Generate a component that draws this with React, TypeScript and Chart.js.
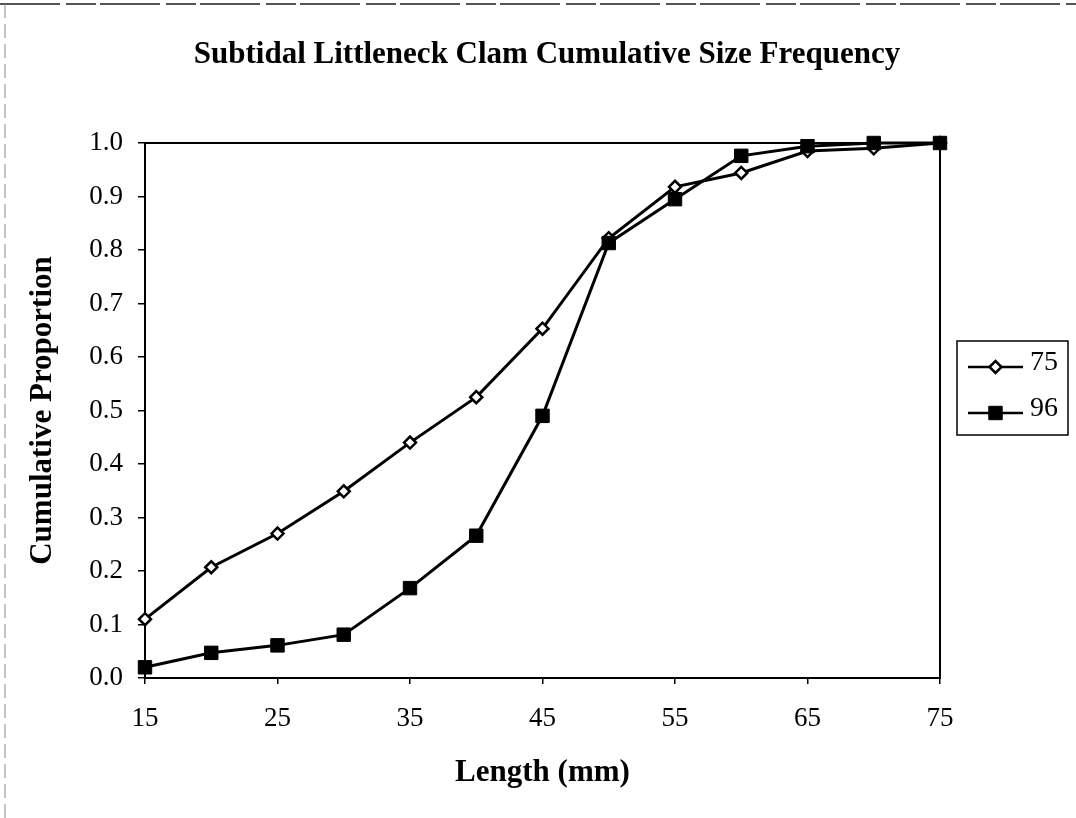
import React, { useEffect, useRef } from "react";
import { Chart, registerables } from "chart.js";

Chart.register(...registerables);

const lengths = [15, 20, 25, 30, 35, 40, 45, 50, 55, 60, 65, 70, 75];
const series75 = [0.11, 0.207, 0.27, 0.349, 0.44, 0.525, 0.653, 0.822, 0.918, 0.944, 0.985, 0.99, 1.0];
const series96 = [0.02, 0.047, 0.061, 0.081, 0.168, 0.266, 0.49, 0.813, 0.895, 0.976, 0.994, 1.0, 1.0];
const seriesLabels = ["75", "96"];
const chartTitle = "Subtidal Littleneck Clam Cumulative Size Frequency";
const xTitle = "Length (mm)";
const yTitle = "Cumulative Proportion";

const SERIF = "'Liberation Serif', 'Times New Roman', serif";

const framePlugin = {
  id: "frame",
  beforeDraw(chart: any) {
    const { ctx, width } = chart;
    ctx.save();
    ctx.fillStyle = "#ffffff";
    ctx.fillRect(0, 0, chart.width, chart.height);
    // faint page border (scan edge)
    ctx.strokeStyle = "#555";
    ctx.lineWidth = 2;
    ctx.setLineDash([60, 6, 30, 4]);
    ctx.beginPath();
    ctx.moveTo(0, 4);
    ctx.lineTo(width, 4);
    ctx.stroke();
    ctx.lineWidth = 1;
    ctx.strokeStyle = "#888";
    ctx.setLineDash([14, 6]);
    ctx.beginPath();
    ctx.moveTo(5, 4);
    ctx.lineTo(5, chart.height);
    ctx.stroke();
    ctx.restore();
    // chart title, centred on the page
    ctx.save();
    ctx.fillStyle = "#000";
    ctx.font = `bold 31px ${SERIF}`;
    ctx.textAlign = "center";
    ctx.textBaseline = "alphabetic";
    ctx.fillText(chartTitle, 547, 63);
    ctx.restore();
  },
  beforeDatasetsDraw(chart: any) {
    const { ctx, chartArea } = chart;
    ctx.save();
    ctx.strokeStyle = "#000";
    ctx.lineWidth = 2;
    ctx.strokeRect(chartArea.left, chartArea.top, chartArea.right - chartArea.left, chartArea.bottom - chartArea.top);
    ctx.restore();
  },
};

const legendBoxPlugin = {
  id: "legendBox",
  afterDraw(chart: any) {
    const { ctx, chartArea } = chart;
    const left = chartArea.right + 17;
    const top = 341;
    const w = 111;
    const h = 94;
    ctx.save();
    ctx.strokeStyle = "#000";
    ctx.lineWidth = 1.5;
    ctx.strokeRect(left, top, w, h);
    chart.data.datasets.forEach((ds: any, i: number) => {
      const y = top + 26 + i * 46;
      const x0 = left + 11;
      const x1 = left + 66;
      ctx.strokeStyle = "#000";
      ctx.lineWidth = 2.5;
      ctx.beginPath();
      ctx.moveTo(x0, y);
      ctx.lineTo(x1, y);
      ctx.stroke();
      const xm = (x0 + x1) / 2;
      const r = ds.pointRadius;
      ctx.fillStyle = ds.pointBackgroundColor;
      ctx.strokeStyle = ds.pointBorderColor;
      ctx.lineWidth = ds.pointBorderWidth;
      ctx.beginPath();
      if (ds.pointStyle === "rectRot") {
        ctx.moveTo(xm - r, y);
        ctx.lineTo(xm, y - r);
        ctx.lineTo(xm + r, y);
        ctx.lineTo(xm, y + r);
        ctx.closePath();
      } else {
        const s = r * Math.SQRT1_2;
        ctx.rect(xm - s, y - s, 2 * s, 2 * s);
      }
      ctx.fill();
      ctx.stroke();
      ctx.fillStyle = "#000";
      ctx.font = `28px ${SERIF}`;
      ctx.textBaseline = "middle";
      ctx.textAlign = "left";
      ctx.fillText(ds.label, x1 + 7, y - 4);
    });
    ctx.restore();
  },
};

export default function App() {
  const canvasRef = useRef<HTMLCanvasElement | null>(null);

  useEffect(() => {
    if (!canvasRef.current) return;
    const chart = new Chart(canvasRef.current, {
      type: "line",
      data: {
        labels: lengths,
        datasets: [
          {
            label: seriesLabels[0],
            data: lengths.map((x, i) => ({ x, y: series75[i] })),
            borderColor: "#000",
            borderWidth: 3,
            pointStyle: "rectRot",
            pointRadius: 6,
            pointBackgroundColor: "#fff",
            pointBorderColor: "#000",
            pointBorderWidth: 2.5,
            tension: 0,
            clip: false,
            order: 1,
          },
          {
            label: seriesLabels[1],
            data: lengths.map((x, i) => ({ x, y: series96[i] })),
            borderColor: "#000",
            borderWidth: 3,
            pointStyle: "rect",
            pointRadius: 9.5,
            pointBackgroundColor: "#000",
            pointBorderColor: "#000",
            pointBorderWidth: 1,
            tension: 0,
            clip: false,
            order: 0,
          },
        ],
      },
      options: {
        animation: false,
        responsive: true,
        maintainAspectRatio: false,
        layout: { padding: { left: 0, right: 136, top: 143, bottom: 0 } },
        plugins: {
          legend: { display: false },
          tooltip: { enabled: false },
          title: { display: false },
        },
        scales: {
          x: {
            type: "linear",
            min: 15,
            max: 75,
            afterFit: (scale: any) => {
              scale.height = 140;
            },
            ticks: {
              stepSize: 10,
              color: "#000",
              padding: 19,
              font: { family: SERIF, size: 27 },
              maxRotation: 0,
            },
            grid: {
              display: true,
              drawOnChartArea: false,
              drawTicks: true,
              tickLength: 6,
              color: "#000",
              lineWidth: 1.5,
            },
            border: { display: true, color: "#000", width: 2 },
            title: {
              display: true,
              text: xTitle,
              color: "#000",
              font: { family: SERIF, size: 31, weight: "bold" },
              padding: { top: 0, bottom: 26 },
            },
          },
          y: {
            type: "linear",
            min: 0,
            max: 1,
            afterFit: (scale: any) => {
              scale.width = 145;
            },
            ticks: {
              stepSize: 0.1,
              color: "#000",
              padding: 15,
              font: { family: SERIF, size: 27 },
              callback: (v: any) => Number(v).toFixed(1),
            },
            grid: {
              display: true,
              drawOnChartArea: false,
              drawTicks: true,
              tickLength: 7,
              color: "#000",
              lineWidth: 1.5,
            },
            border: { display: true, color: "#000", width: 2 },
            title: {
              display: true,
              text: yTitle,
              color: "#000",
              font: { family: SERIF, size: 31, weight: "bold" },
              padding: { top: 24, bottom: 0 },
            },
          },
        },
      },
      plugins: [framePlugin, legendBoxPlugin],
    } as any);
    return () => chart.destroy();
  }, []);

  return (
    <div style={{ position: "fixed", left: 0, top: 0, width: 1076, height: 818, background: "#fff" }}>
      <canvas ref={canvasRef} />
    </div>
  );
}
